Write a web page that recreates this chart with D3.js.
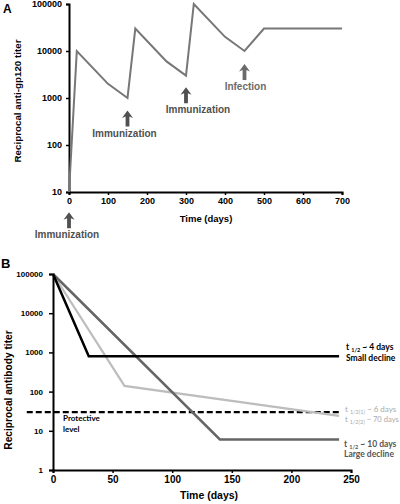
<!DOCTYPE html>
<html>
<head>
<meta charset="utf-8">
<script src="https://cdn.jsdelivr.net/npm/d3@7"></script>
<style>
  body { margin: 0; background: #fff; }
  svg { display: block; }
  .tick text { font-family: "Liberation Sans", Arial, sans-serif; font-weight: bold; fill: #000; }
</style>
</head>
<body>
<svg id="chart" width="400" height="504"></svg>
<script>
// ---------- Panel A data ----------
const daysA = [0, 20, 100, 150, 170, 250, 300, 320, 400, 450, 500, 700];
const titerA = [10, 10000, 2000, 1000, 30000, 6000, 3000, 100000, 20000, 10000, 30000, 30000];
const xTicksA = [0, 100, 200, 300, 400, 500, 600, 700];
const yTicksA = [10, 100, 1000, 10000, 100000];
// annotations: day, arrow tip titer, label
const annDays = [0, 150, 300, 450];
const annTip = [3.7, 540, 1700, 5300];
const annLabels = ["Immunization", "Immunization", "Immunization", "Infection"];

// ---------- Panel B data ----------
const smallDays = [0, 30, 240];
const smallTiter = [100000, 800, 800];
const biDays = [0, 60, 240];
const biTiter = [100000, 140, 24];
const largeDays = [0, 140, 240];
const largeTiter = [100000, 6, 6];
const protectiveDays = [-22, 240];
const protectiveLevel = 30;
const xTicksB = [0, 50, 100, 150, 200, 250];
const yTicksB = [1, 10, 100, 1000, 10000, 100000];

const svg = d3.select("#chart");
const FONT = "'Liberation Sans', Arial, sans-serif";
const FONT2 = "Lato, 'Open Sans', sans-serif";

// ================= Panel A =================
const xA = d3.scaleLinear().domain([0, 700]).range([69, 342]);
const yA = d3.scaleLog().domain([10, 100000]).range([192, 4]);

const gA = svg.append("g");
const axA_x = gA.append("g").attr("transform", `translate(0,${yA(10)})`)
  .call(d3.axisBottom(xA).tickValues(xTicksA).tickSize(3).tickPadding(3).tickFormat(d3.format("d")));
const axA_y = gA.append("g").attr("transform", `translate(${xA(0)},0)`)
  .call(d3.axisLeft(yA).tickValues(yTicksA).tickSize(3).tickPadding(4).tickFormat(d3.format("d")));
[axA_x, axA_y].forEach(a => {
  a.select(".domain").attr("stroke", "#000").attr("stroke-width", 2);
  a.selectAll(".tick line").attr("stroke", "#000").attr("stroke-width", 1.5);
  a.selectAll(".tick text").style("font-size", "9px");
});

gA.append("path")
  .datum(daysA.map((d, i) => [d, titerA[i]]))
  .attr("fill", "none").attr("stroke", "#777").attr("stroke-width", 2)
  .attr("stroke-linejoin", "miter")
  .attr("d", d3.line().x(d => xA(d[0])).y(d => yA(d[1])));

// arrows
function arrow(g, x, yTip, color) {
  const len = 16, hw = 5.5, hh = 7.5, sw = 1.9;
  const p = `M${x},${yTip} L${x + hw},${yTip + hh} L${x + sw},${yTip + hh - 1.5} L${x + sw},${yTip + len} L${x - sw},${yTip + len} L${x - sw},${yTip + hh - 1.5} L${x - hw},${yTip + hh} Z`;
  g.append("path").attr("d", p).attr("fill", color);
}
annDays.forEach((d, i) => {
  const isInf = annLabels[i] === "Infection";
  const col = isInf ? "#6b6b6b" : "#505050";
  const yTip = yA(annTip[i]);
  arrow(gA, xA(d), yTip, col);
  gA.append("text")
    .attr("x", xA(d) + (i === 0 ? -2 : (i === 1 ? -3 : (i === 2 ? 12 : 1))))
    .attr("y", yTip + 26)
    .attr("text-anchor", "middle")
    .attr("font-family", FONT).attr("font-weight", "bold").attr("font-size", "10px")
    .attr("fill", col)
    .text(annLabels[i]);
});

gA.append("text").attr("x", 206).attr("y", 222).attr("text-anchor", "middle")
  .attr("font-family", FONT).attr("font-weight", "bold").attr("font-size", "9.5px")
  .text("Time (days)");
gA.append("text").attr("transform", "translate(21,101) rotate(-90)").attr("text-anchor", "middle")
  .attr("font-family", FONT).attr("font-weight", "bold").attr("font-size", "9.8px")
  .text("Reciprocal anti-gp120 titer");
gA.append("text").attr("x", 3).attr("y", 13)
  .attr("font-family", FONT).attr("font-weight", "bold").attr("font-size", "12px")
  .text("A");

// ================= Panel B =================
const xB = d3.scaleLinear().domain([0, 250]).range([53, 351]);
const yB = d3.scaleLog().domain([1, 100000]).range([470, 274]);
const gB = svg.append("g");

const axB_x = gB.append("g").attr("transform", `translate(0,${yB(1)})`)
  .call(d3.axisBottom(xB).tickValues(xTicksB).tickSize(3).tickPadding(3).tickFormat(d3.format("d")));
const axB_y = gB.append("g").attr("transform", `translate(${xB(0)},0)`)
  .call(d3.axisLeft(yB).tickValues(yTicksB).tickSize(4).tickPadding(6).tickFormat(d3.format("d")));
[axB_x, axB_y].forEach(a => {
  a.select(".domain").attr("stroke", "#000").attr("stroke-width", 2);
  a.selectAll(".tick line").attr("stroke", "#000").attr("stroke-width", 1.5);
});
axB_x.selectAll(".tick text").style("font-size", "10px");
axB_y.selectAll(".tick text").style("font-size", "8px");

const lineB = d3.line().x(d => xB(d[0])).y(d => yB(d[1]));
// protective dashed line
gB.append("path")
  .datum(protectiveDays.map(d => [d, protectiveLevel]))
  .attr("fill", "none").attr("stroke", "#000").attr("stroke-width", 2.2)
  .attr("stroke-dasharray", "6,3")
  .attr("d", lineB);
gB.append("path")
  .datum(biDays.map((d, i) => [d, biTiter[i]]))
  .attr("fill", "none").attr("stroke", "#bdbdbd").attr("stroke-width", 2.2)
  .attr("d", lineB);
gB.append("path")
  .datum(largeDays.map((d, i) => [d, largeTiter[i]]))
  .attr("fill", "none").attr("stroke", "#666").attr("stroke-width", 2.5)
  .attr("d", lineB);
gB.append("path")
  .datum(smallDays.map((d, i) => [d, smallTiter[i]]))
  .attr("fill", "none").attr("stroke", "#000").attr("stroke-width", 2.5)
  .attr("d", lineB);

// labels right
function halfLife(g, x, y, sub, rest, color, weight, size) {
  const t = g.append("text").attr("x", x).attr("y", y)
    .attr("font-family", FONT2).attr("font-size", size).attr("font-weight", weight).attr("fill", color);
  t.append("tspan").text("t ");
  t.append("tspan").attr("font-size", "5.5px").attr("dy", 1.5).text(sub);
  t.append("tspan").attr("dy", -1.5).text(rest);
  return t;
}
halfLife(gB, 346, 350, "1/2", " ~ 4 days", "#000", "bold", "8.5px");
gB.append("text").attr("x", 346).attr("y", 361).attr("font-family", FONT2).attr("font-size", "8.5px")
  .attr("font-weight", "bold").text("Small decline");
halfLife(gB, 345, 412, "1/2(1)", " ~ 6 days", "#aaa", "normal", "8px");
halfLife(gB, 345, 422, "1/2(2)", " ~ 70 days", "#aaa", "normal", "7.6px");
halfLife(gB, 344, 447, "1/2", " ~ 10 days", "#555", "bold", "8.5px");
gB.append("text").attr("x", 344).attr("y", 457).attr("font-family", FONT2).attr("font-size", "8.5px")
  .attr("font-weight", "bold").attr("fill", "#555").text("Large decline");

gB.append("text").attr("x", 63).attr("y", 421).attr("font-family", FONT2).attr("font-size", "8px")
  .attr("font-weight", "bold").attr("fill", "#000").text("Protective");
gB.append("text").attr("x", 63).attr("y", 432).attr("font-family", FONT2).attr("font-size", "8px")
  .attr("font-weight", "bold").attr("fill", "#000").text("level");

gB.append("text").attr("x", 209).attr("y", 499).attr("text-anchor", "middle")
  .attr("font-family", FONT).attr("font-weight", "bold").attr("font-size", "10.5px")
  .text("Time (days)");
gB.append("text").attr("transform", "translate(12,390) rotate(-90)").attr("text-anchor", "middle")
  .attr("font-family", FONT).attr("font-weight", "bold").attr("font-size", "10.2px")
  .text("Reciprocal antibody titer");
gB.append("text").attr("x", 1).attr("y", 268)
  .attr("font-family", FONT).attr("font-weight", "bold").attr("font-size", "13px")
  .text("B");
</script>
</body>
</html>
